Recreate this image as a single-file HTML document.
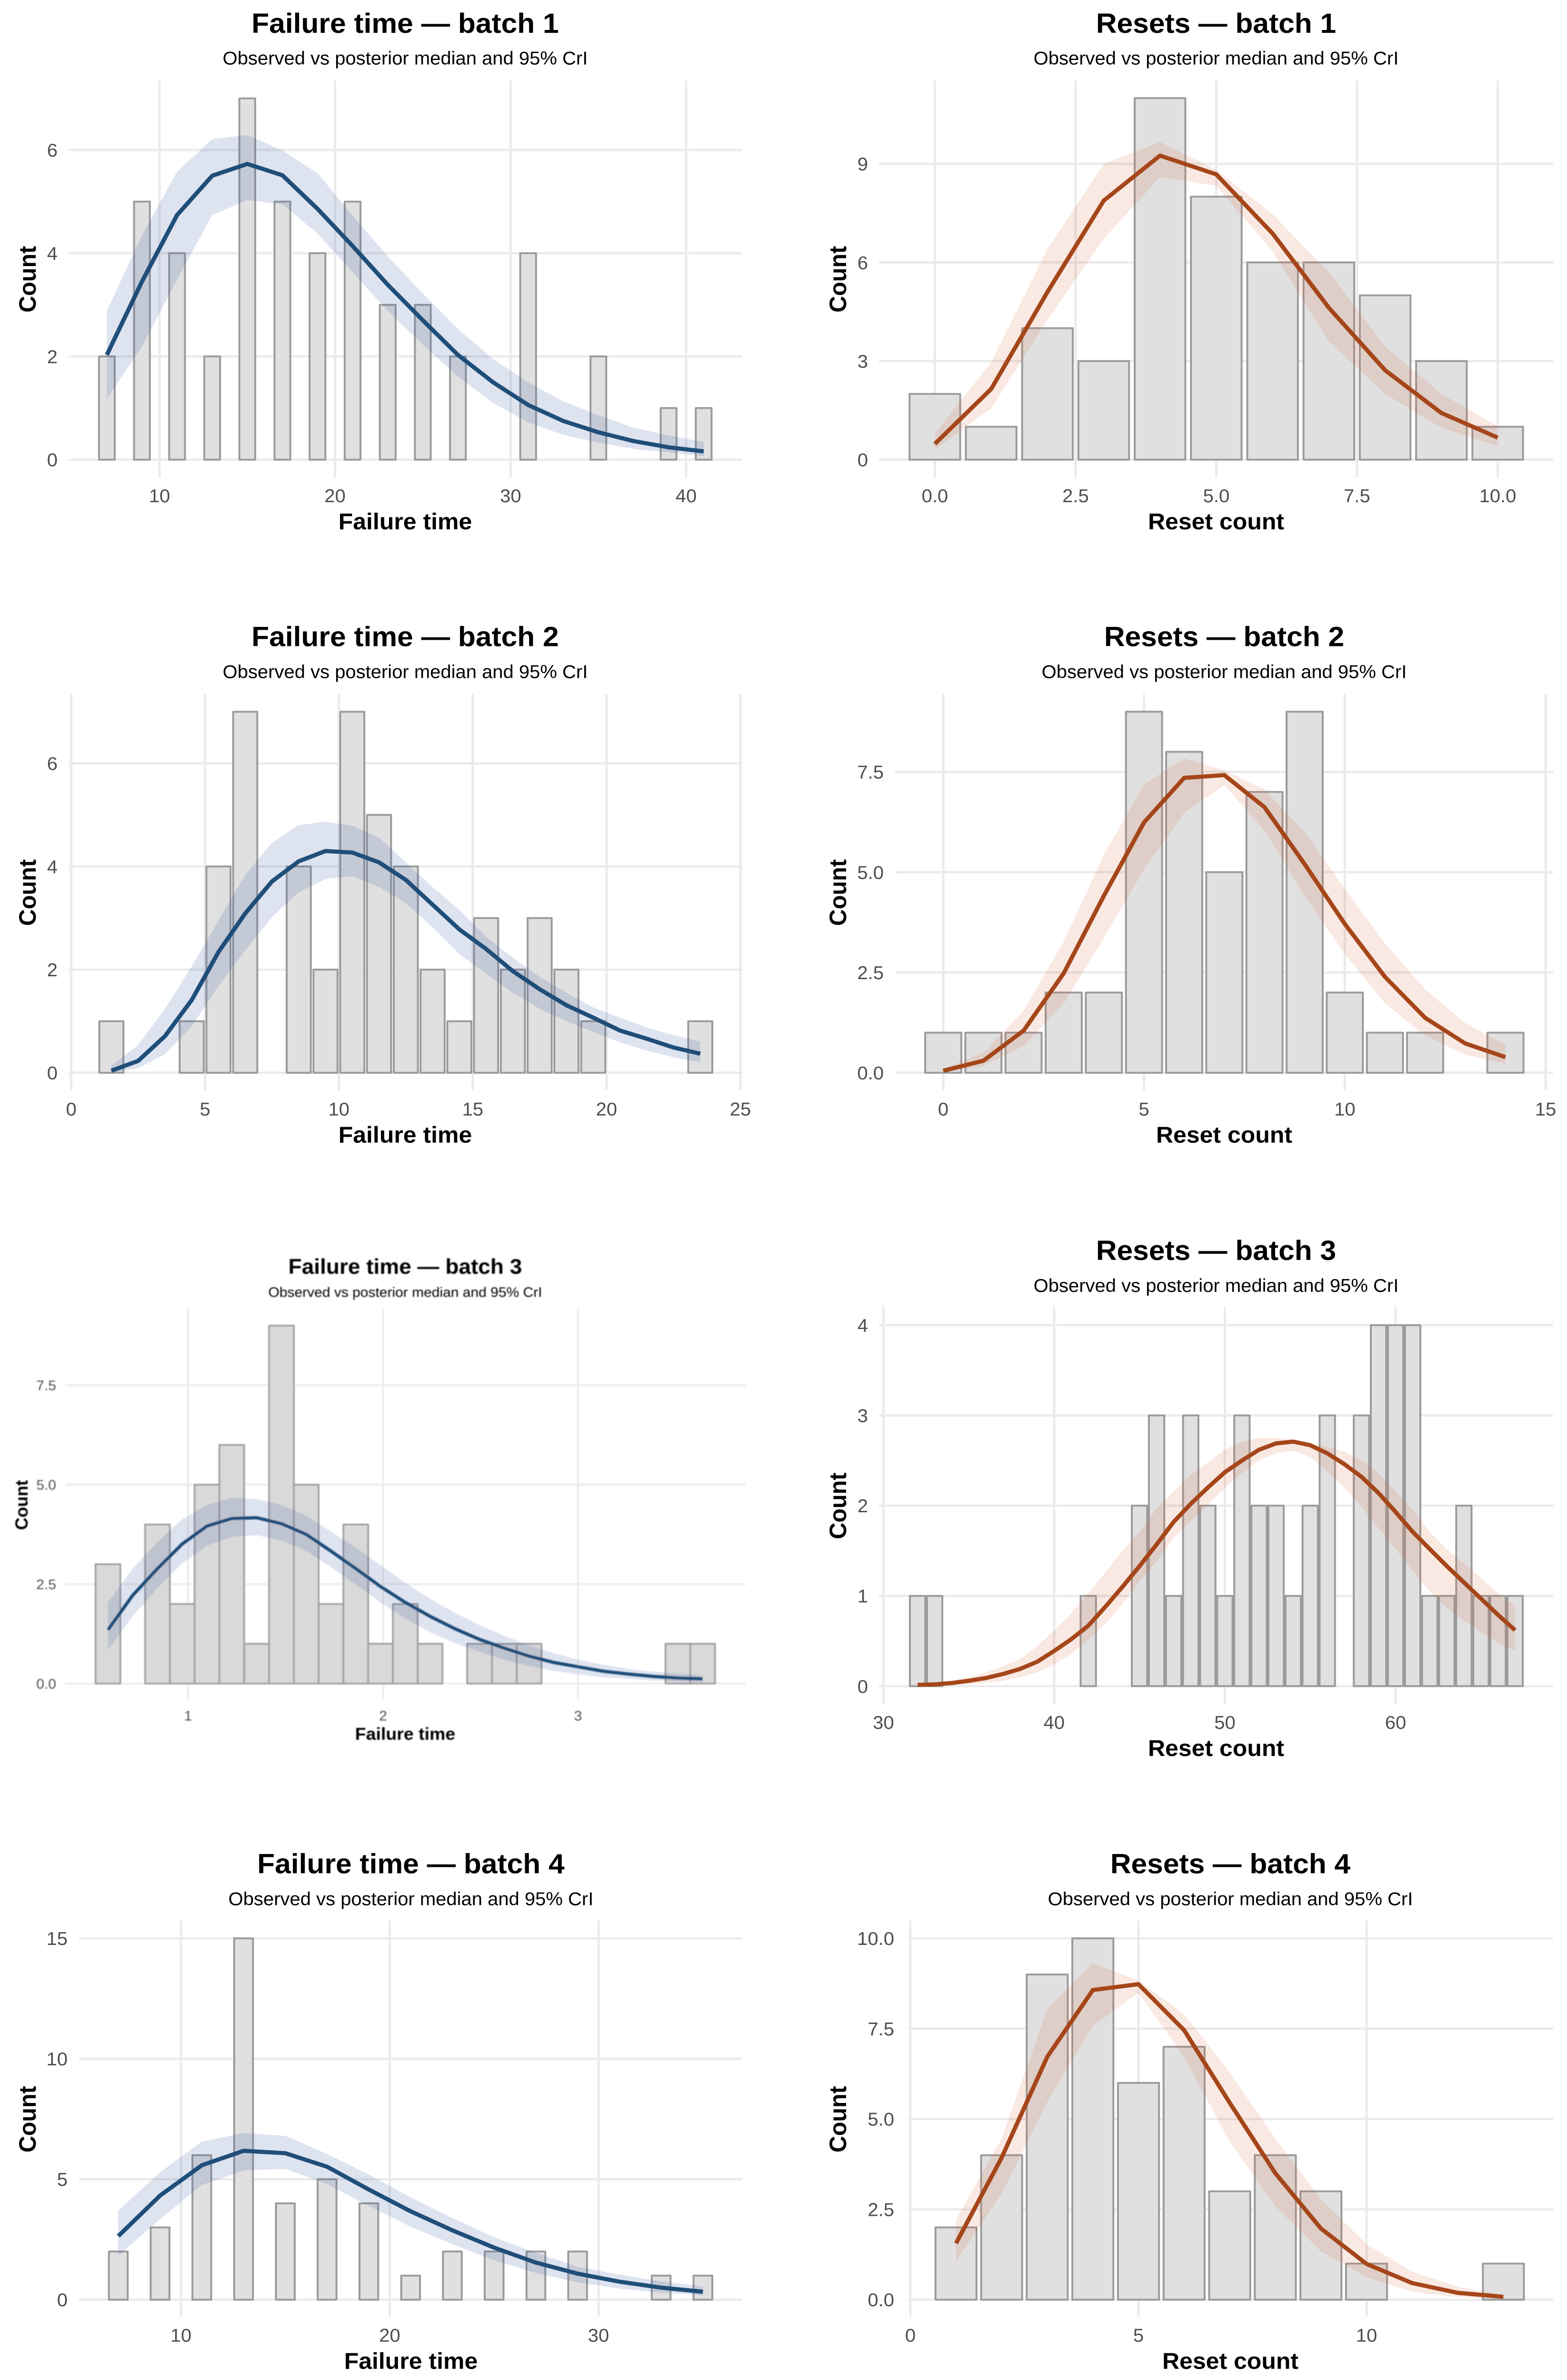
<!DOCTYPE html>
<html lang="en">
<head>
<meta charset="utf-8">
<title>Observed vs posterior median and 95% CrI</title>
<style>
html,body{margin:0;padding:0;background:#fff;width:3291px;height:5157px;overflow:hidden}
svg{display:block;position:absolute;left:0;top:0;overflow:hidden}
text{font-family:"Liberation Sans",sans-serif}
.title{font-size:60.5px;font-weight:700;fill:#000;text-anchor:middle}
.sub{font-size:40px;fill:#000;text-anchor:middle}
.axt{font-size:50px;font-weight:700;fill:#000;text-anchor:middle}
.small .title{font-size:46px}
.small .sub{font-size:30px}
.small .axt{font-size:37.5px}
</style>
</head>
<body>
<svg id="figure" xmlns="http://www.w3.org/2000/svg" width="3291" height="5157" viewBox="0 0 3291 5157" preserveAspectRatio="none">
<defs><filter id="soft" filterUnits="userSpaceOnUse" x="0" y="2680" width="1640" height="1120"><feGaussianBlur stdDeviation="1.1"/></filter></defs>
<rect x="0" y="0" width="3291" height="5157" fill="#fff"/>

<g id="failure1">
<text class="title" x="851" y="71">Failure time — batch 1</text>
<text class="sub" x="851" y="140">Observed vs posterior median and 95% CrI</text>
<text class="axt" x="851" y="1147">Failure time</text>
<text class="axt" transform="translate(75,605) rotate(-90)">Count</text>
</g>
<g id="resets1">
<text class="title" x="2554" y="71">Resets — batch 1</text>
<text class="sub" x="2554" y="140">Observed vs posterior median and 95% CrI</text>
<text class="axt" x="2554" y="1147">Reset count</text>
<text class="axt" transform="translate(1777,605) rotate(-90)">Count</text>
</g>

<g id="failure2">
<text class="title" x="851" y="1400">Failure time — batch 2</text>
<text class="sub" x="851" y="1469">Observed vs posterior median and 95% CrI</text>
<text class="axt" x="851" y="2476">Failure time</text>
<text class="axt" transform="translate(75,1934) rotate(-90)">Count</text>
</g>
<g id="resets2">
<text class="title" x="2571" y="1400">Resets — batch 2</text>
<text class="sub" x="2571" y="1469">Observed vs posterior median and 95% CrI</text>
<text class="axt" x="2571" y="2476">Reset count</text>
<text class="axt" transform="translate(1777,1934) rotate(-90)">Count</text>
</g>

<g id="failure3" class="small" filter="url(#soft)">
<text class="title" x="851" y="2760">Failure time — batch 3</text>
<text class="sub" x="851" y="2810">Observed vs posterior median and 95% CrI</text>
<text class="axt" x="851" y="3770">Failure time</text>
<text class="axt" transform="translate(58,3261) rotate(-90)">Count</text>
</g>
<g id="resets3">
<text class="title" x="2554" y="2730">Resets — batch 3</text>
<text class="sub" x="2554" y="2799">Observed vs posterior median and 95% CrI</text>
<text class="axt" x="2554" y="3805">Reset count</text>
<text class="axt" transform="translate(1777,3263) rotate(-90)">Count</text>
</g>

<g id="failure4">
<text class="title" x="863" y="4059">Failure time — batch 4</text>
<text class="sub" x="863" y="4128">Observed vs posterior median and 95% CrI</text>
<text class="axt" x="863" y="5133">Failure time</text>
<text class="axt" transform="translate(75,4592) rotate(-90)">Count</text>
</g>
<g id="resets4">
<text class="title" x="2584" y="4059">Resets — batch 4</text>
<text class="sub" x="2584" y="4128">Observed vs posterior median and 95% CrI</text>
<text class="axt" x="2584" y="5133">Reset count</text>
<text class="axt" transform="translate(1777,4592) rotate(-90)">Count</text>
</g>
</svg>

<script>
// ---------- Data: failure time, batch 1 ----------
const failure1Bins = [7,9,11,13,15,17,19,21,23,25,27,29,31,33,35,37,39,41];
const failure1Counts = [2,5,4,2,7,5,4,5,3,3,2,0,4,0,2,0,1,1];
const failure1Median = [2.03,3.45,4.74,5.5,5.73,5.51,4.86,4.14,3.39,2.7,2.03,1.5,1.06,0.75,0.53,0.36,0.24,0.16];
const failure1Upper = [2.88,4.35,5.58,6.21,6.29,5.99,5.55,4.73,3.94,3.22,2.53,1.95,1.5,1.13,0.86,0.62,0.47,0.34];
const failure1Lower = [1.18,2.19,3.49,4.74,5.03,4.95,4.38,3.63,2.88,2.23,1.61,1.1,0.72,0.48,0.33,0.21,0.14,0.07];
const failure1XTicks = [10,20,30,40];
const failure1XLabels = ["10","20","30","40"];
const failure1YTicks = [0,2,4,6];
const failure1YLabels = ["0","2","4","6"];

// ---------- Data: resets, batch 1 ----------
const resets1Bins = [0,1,2,3,4,5,6,7,8,9,10];
const resets1Counts = [2,1,4,3,11,8,6,6,5,3,1];
const resets1Median = [0.48,2.15,5.1,7.88,9.25,8.68,6.88,4.62,2.72,1.42,0.67];
const resets1Upper = [0.8,2.96,6.4,9.0,9.66,8.82,7.47,5.7,3.44,2.0,1.02];
const resets1Lower = [0.32,1.56,4.25,6.72,8.6,8.33,6.34,3.6,2.0,0.97,0.41];
const resets1XTicks = [0,2.5,5,7.5,10];
const resets1XLabels = ["0.0","2.5","5.0","7.5","10.0"];
const resets1YTicks = [0,3,6,9];
const resets1YLabels = ["0","3","6","9"];

// ---------- Data: failure time, batch 2 ----------
const failure2Bins = [1.5,2.5,3.5,4.5,5.5,6.5,7.5,8.5,9.5,10.5,11.5,12.5,13.5,14.5,15.5,16.5,17.5,18.5,19.5,20.5,21.5,22.5,23.5];
const failure2Counts = [1,0,0,1,4,7,0,4,2,7,5,4,2,1,3,2,3,2,1,0,0,0,1];
const failure2Median = [0.04,0.23,0.71,1.41,2.34,3.09,3.71,4.1,4.3,4.27,4.08,3.74,3.26,2.78,2.4,1.97,1.62,1.31,1.07,0.82,0.66,0.49,0.37];
const failure2Upper = [0.14,0.54,1.24,2.06,2.95,3.84,4.46,4.8,4.87,4.79,4.56,4.08,3.6,3.16,2.64,2.23,1.86,1.55,1.27,1.07,0.88,0.73,0.61];
const failure2Lower = [0,0.09,0.36,0.9,1.68,2.37,3.02,3.5,3.76,3.81,3.6,3.29,2.82,2.3,1.92,1.55,1.24,1,0.79,0.59,0.43,0.3,0.2];
const failure2XTicks = [0,5,10,15,20,25];
const failure2XLabels = ["0","5","10","15","20","25"];
const failure2YTicks = [0,2,4,6];
const failure2YLabels = ["0","2","4","6"];

// ---------- Data: resets, batch 2 ----------
const resets2Bins = [0,1,2,3,4,5,6,7,8,9,10,11,12,13,14];
const resets2Counts = [1,1,1,2,2,9,8,5,7,9,2,1,1,0,1];
const resets2Median = [0.05,0.3,1.05,2.48,4.41,6.24,7.35,7.42,6.62,5.2,3.71,2.39,1.37,0.73,0.39];
const resets2Upper = [0.1,0.49,1.55,3.27,5.43,7.19,7.83,7.54,7.06,6.0,4.59,3.22,2.08,1.24,0.69];
const resets2Lower = [0,0.17,0.67,1.73,3.36,5.07,6.48,7.17,6.04,4.41,2.96,1.73,0.93,0.45,0.23];
const resets2XTicks = [0,5,10,15];
const resets2XLabels = ["0","5","10","15"];
const resets2YTicks = [0,2.5,5,7.5];
const resets2YLabels = ["0.0","2.5","5.0","7.5"];

// ---------- Data: failure time, batch 3 ----------
const failure3Bins = [0.589,0.716,0.843,0.970,1.097,1.224,1.352,1.479,1.606,1.733,1.860,1.987,2.114,2.241,2.368,2.495,2.622,2.749,2.876,3.003,3.130,3.258,3.385,3.512,3.639];
const failure3Counts = [3,0,4,2,5,6,1,9,5,2,4,1,2,1,0,1,1,1,0,0,0,0,0,1,1];
const failure3Median = [1.35,2.22,2.89,3.51,3.96,4.15,4.17,4.02,3.75,3.33,2.89,2.44,2.04,1.69,1.38,1.11,0.89,0.69,0.53,0.42,0.31,0.24,0.18,0.14,0.12];
const failure3Upper = [2.04,2.89,3.56,4.13,4.49,4.67,4.64,4.49,4.22,3.82,3.42,2.98,2.53,2.13,1.78,1.47,1.2,0.96,0.76,0.6,0.47,0.37,0.3,0.25,0.2];
const failure3Lower = [0.84,1.69,2.4,3.02,3.47,3.69,3.73,3.6,3.33,2.93,2.49,2.04,1.64,1.29,1.02,0.8,0.6,0.44,0.32,0.23,0.16,0.12,0.08,0.05,0.04];
const failure3XTicks = [1,2,3];
const failure3XLabels = ["1","2","3"];
const failure3YTicks = [0,2.5,5,7.5];
const failure3YLabels = ["0.0","2.5","5.0","7.5"];

// ---------- Data: resets, batch 3 ----------
const resets3Bins = [32,33,34,35,36,37,38,39,40,41,42,43,44,45,46,47,48,49,50,51,52,53,54,55,56,57,58,59,60,61,62,63,64,65,66,67];
const resets3Counts = [1,1,0,0,0,0,0,0,0,0,1,0,0,2,3,1,3,2,1,3,2,2,1,2,3,0,3,4,4,4,1,1,2,1,1,1];
const resets3Median = [0.015,0.02,0.035,0.06,0.09,0.135,0.19,0.27,0.39,0.52,0.67,0.88,1.1,1.33,1.57,1.82,2.02,2.2,2.37,2.5,2.62,2.69,2.71,2.67,2.58,2.46,2.32,2.14,1.93,1.71,1.52,1.33,1.15,0.97,0.79,0.62];
const resets3Upper = [0.03,0.04,0.06,0.1,0.15,0.22,0.3,0.44,0.62,0.81,1.03,1.26,1.5,1.71,1.97,2.16,2.34,2.48,2.62,2.71,2.75,2.75,2.73,2.69,2.65,2.6,2.5,2.36,2.16,1.95,1.71,1.52,1.36,1.2,1.03,0.89];
const resets3Lower = [0,0,0.01,0.02,0.035,0.06,0.1,0.15,0.24,0.36,0.52,0.69,0.91,1.16,1.38,1.64,1.83,2.01,2.2,2.36,2.5,2.58,2.61,2.54,2.38,2.2,1.99,1.75,1.52,1.28,1.05,0.87,0.73,0.6,0.48,0.39];
const resets3XTicks = [30,40,50,60];
const resets3XLabels = ["30","40","50","60"];
const resets3YTicks = [0,1,2,3,4];
const resets3YLabels = ["0","1","2","3","4"];

// ---------- Data: failure time, batch 4 ----------
const failure4Bins = [7,9,11,13,15,17,19,21,23,25,27,29,31,33,35];
const failure4Counts = [2,3,6,15,4,5,4,1,2,2,2,2,0,1,1];
const failure4Median = [2.64,4.32,5.58,6.18,6.08,5.52,4.57,3.67,2.88,2.16,1.54,1.08,0.75,0.5,0.33];
const failure4Upper = [3.7,5.29,6.56,6.92,6.8,6.05,5.19,4.25,3.39,2.59,1.95,1.37,1.04,0.76,0.55];
const failure4Lower = [1.83,3.34,4.76,5.37,5.43,4.8,3.89,3.03,2.31,1.63,1.11,0.72,0.46,0.29,0.19];
const failure4XTicks = [10,20,30];
const failure4XLabels = ["10","20","30"];
const failure4YTicks = [0,5,10,15];
const failure4YLabels = ["0","5","10","15"];

// ---------- Data: resets, batch 4 ----------
const resets4Bins = [1,2,3,4,5,6,7,8,9,10,11,12,13];
const resets4Counts = [2,4,9,10,6,7,3,4,3,1,0,0,1];
const resets4Median = [1.56,3.93,6.72,8.57,8.73,7.46,5.45,3.5,1.97,0.99,0.46,0.19,0.08];
const resets4Upper = [2.21,4.46,8.04,9.31,8.83,7.9,6.29,4.46,2.78,1.54,0.77,0.36,0.12];
const resets4Lower = [1.06,2.93,5.47,7.58,8.49,6.72,4.37,2.59,1.34,0.62,0.22,0.07,0.02];
const resets4XTicks = [0,5,10];
const resets4XLabels = ["0","5","10"];
const resets4YTicks = [0,2.5,5,7.5,10];
const resets4YLabels = ["0.0","2.5","5.0","7.5","10.0"];

// ---------- Rendering ----------
const NS = "http://www.w3.org/2000/svg";
const BLUE = {line:"#1f4e79", band:"#3b5ba5", bandAlpha:0.17};
const ORANGE = {line:"#a5461a", band:"#d2622f", bandAlpha:0.14};

function linearScale(v0, p0, v1, p1){
  const k = (p1 - p0) / (v1 - v0);
  return v => p0 + (v - v0) * k;
}

function make(tag, attrs){
  const el = document.createElementNS(NS, tag);
  for (const k in attrs) el.setAttribute(k, attrs[k]);
  return el;
}

function drawPanel(cfg){
  const root = document.getElementById(cfg.id);
  const x = linearScale(cfg.xCal[0], cfg.xCal[1], cfg.xCal[2], cfg.xCal[3]);
  const y = linearScale(cfg.yCal[0], cfg.yCal[1], cfg.yCal[2], cfg.yCal[3]);
  const first = root.firstChild;

  const gridX = make("g", {stroke:"#ebebeb", "stroke-width":cfg.gridW});
  
  
  cfg.xTicks.forEach(t => {
    const ln = make("line", {x1:x(t), x2:x(t), y1:cfg.top, y2:cfg.bottom});
    
    
    gridX.appendChild(ln);
  });
  root.insertBefore(gridX, first);

  const gridY = make("g", {stroke:"#ebebeb", "stroke-width":cfg.gridW});
  
  
  cfg.yTicks.forEach(t => {
    const ln = make("line", {x1:cfg.left, x2:cfg.right, y1:y(t), y2:y(t)});
    
    
    gridY.appendChild(ln);
  });
  root.insertBefore(gridY, first);

  const bars = make("g", {fill:cfg.barFill, stroke:"#9b9b9b", "stroke-width":cfg.barStroke, "stroke-linejoin":"round"});
  
  
  cfg.bins.forEach((b, i) => {
    const c = cfg.counts[i];
    const px0 = x(b - cfg.barW / 2);
    const px1 = x(b + cfg.barW / 2);
    const r = make("rect", {x:px0, width:px1 - px0, y:y(c), height:Math.max(0, y(0) - y(c))});
    
    
    bars.appendChild(r);
  });
  root.insertBefore(bars, first);

  const upperPts = cfg.bins.map((b, i) => x(b).toFixed(1) + "," + y(cfg.upper[i]).toFixed(1));
  const lowerPts = cfg.bins.map((b, i) => x(b).toFixed(1) + "," + y(cfg.lower[i]).toFixed(1)).reverse();
  const band = make("polygon", {points:upperPts.concat(lowerPts).join(" "), fill:cfg.color.band, "fill-opacity":cfg.color.bandAlpha, stroke:"none"});
  
  
  root.insertBefore(band, first);

  const medianPts = cfg.bins.map((b, i) => x(b).toFixed(1) + "," + y(cfg.median[i]).toFixed(1));
  const line = make("polyline", {points:medianPts.join(" "), fill:"none", stroke:cfg.color.line, "stroke-width":cfg.lineW, "stroke-linejoin":"round", "stroke-linecap":"butt"});
  
  
  root.insertBefore(line, first);

  cfg.xTicks.forEach((t, i) => {
    const tx = make("text", {x:x(t), y:cfg.xTickY, "text-anchor":"middle", fill:"#4d4d4d", "font-size":cfg.tickSize});
    
    
    tx.textContent = cfg.xLabels[i];
    root.appendChild(tx);
  });
  cfg.yTicks.forEach((t, i) => {
    const tx = make("text", {x:cfg.yTickX, y:y(t) + cfg.tickSize * 0.36, "text-anchor":"end", fill:"#4d4d4d", "font-size":cfg.tickSize});
    
    
    tx.textContent = cfg.yLabels[i];
    root.appendChild(tx);
  });
}

const normal = {gridW:5, barFill:"#e0e0e0", barStroke:4, lineW:9, tickSize:40};
const small = {gridW:4, barFill:"#d9d9d9", barStroke:3.5, lineW:7, tickSize:30};

drawPanel({...normal, id:"failure1", color:BLUE, left:144, right:1559, top:175, bottom:1034, xCal:[10,335,40,1441], yCal:[0,996,6,325], barW:0.9, xTickY:1088, yTickX:121,
  bins:failure1Bins, counts:failure1Counts, median:failure1Median, upper:failure1Upper, lower:failure1Lower, xTicks:failure1XTicks, xLabels:failure1XLabels, yTicks:failure1YTicks, yLabels:failure1YLabels});
drawPanel({...normal, id:"resets1", color:ORANGE, left:1846, right:3262, top:175, bottom:1034, xCal:[0,1963.4,10,3145.5], yCal:[0,996,9,355], barW:0.9, xTickY:1088, yTickX:1823,
  bins:resets1Bins, counts:resets1Counts, median:resets1Median, upper:resets1Upper, lower:resets1Lower, xTicks:resets1XTicks, xLabels:resets1XLabels, yTicks:resets1YTicks, yLabels:resets1YLabels});
drawPanel({...normal, id:"failure2", color:BLUE, left:144, right:1559, top:1504, bottom:2362, xCal:[0,149.6,25,1555], yCal:[0,2324.5,6,1654], barW:0.9, xTickY:2417, yTickX:121,
  bins:failure2Bins, counts:failure2Counts, median:failure2Median, upper:failure2Upper, lower:failure2Lower, xTicks:failure2XTicks, xLabels:failure2XLabels, yTicks:failure2YTicks, yLabels:failure2YLabels});
drawPanel({...normal, id:"resets2", color:ORANGE, left:1880, right:3262, top:1504, bottom:2362, xCal:[0,1981,15,3246], yCal:[0,2324.5,7.5,1672.5], barW:0.9, xTickY:2417, yTickX:1856,
  bins:resets2Bins, counts:resets2Counts, median:resets2Median, upper:resets2Upper, lower:resets2Lower, xTicks:resets2XTicks, xLabels:resets2XLabels, yTicks:resets2YTicks, yLabels:resets2YLabels});
drawPanel({...small, id:"failure3", color:BLUE, left:137, right:1566, top:2835, bottom:3683, xCal:[1,395,3,1214], yCal:[0,3648,7.5,3001.6], barW:0.1271, xTickY:3728, yTickX:118,
  bins:failure3Bins, counts:failure3Counts, median:failure3Median, upper:failure3Upper, lower:failure3Lower, xTicks:failure3XTicks, xLabels:failure3XLabels, yTicks:failure3YTicks, yLabels:failure3YLabels});
drawPanel({...normal, id:"resets3", color:ORANGE, left:1846, right:3262, top:2832, bottom:3693, xCal:[30,1855.4,60,2931], yCal:[0,3653.6,4,2871.4], barW:0.9, xTickY:3746, yTickX:1823,
  bins:resets3Bins, counts:resets3Counts, median:resets3Median, upper:resets3Upper, lower:resets3Lower, xTicks:resets3XTicks, xLabels:resets3XLabels, yTicks:resets3YTicks, yLabels:resets3YLabels});
drawPanel({...normal, id:"failure4", color:BLUE, left:166, right:1559, top:4162, bottom:5020, xCal:[10,380,30,1257], yCal:[0,4983,15,4200], barW:0.9, xTickY:5074, yTickX:142,
  bins:failure4Bins, counts:failure4Counts, median:failure4Median, upper:failure4Upper, lower:failure4Lower, xTicks:failure4XTicks, xLabels:failure4XLabels, yTicks:failure4YTicks, yLabels:failure4YLabels});
drawPanel({...normal, id:"resets4", color:ORANGE, left:1907, right:3262, top:4162, bottom:5020, xCal:[0,1912,10,2870], yCal:[0,4983,10,4200], barW:0.9, xTickY:5074, yTickX:1878,
  bins:resets4Bins, counts:resets4Counts, median:resets4Median, upper:resets4Upper, lower:resets4Lower, xTicks:resets4XTicks, xLabels:resets4XLabels, yTicks:resets4YTicks, yLabels:resets4YLabels});

// Fit the whole figure inside the frame when the viewport is capped below the figure height
const frameH = window.innerHeight;
if (frameH >= 4000 && frameH < 5157) {
  document.getElementById("figure").setAttribute("height", frameH);
  document.documentElement.style.height = frameH + "px";
  document.body.style.height = frameH + "px";
}
</script>
</body>
</html>
